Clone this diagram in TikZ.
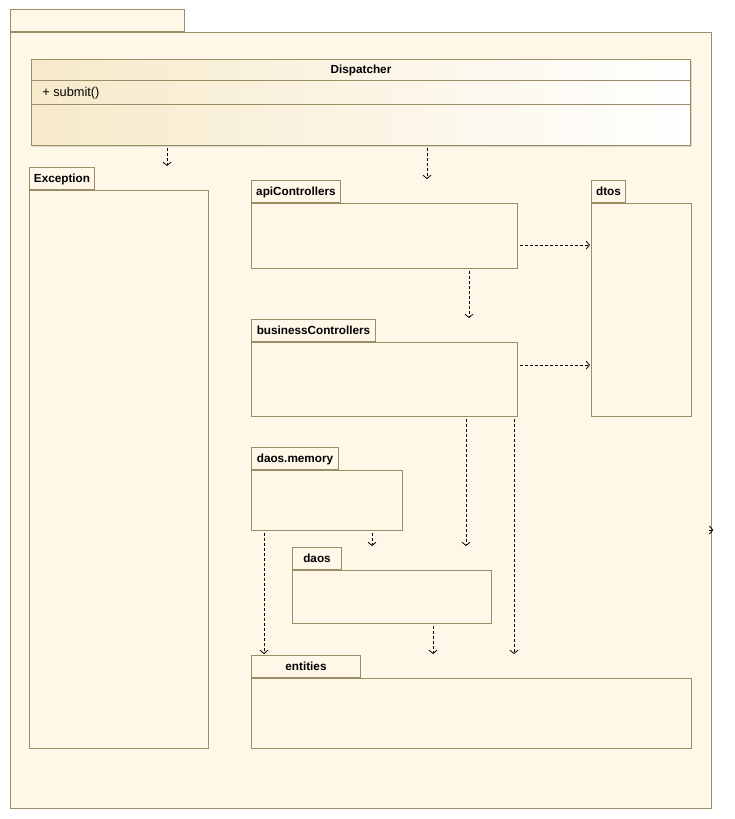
\documentclass[tikz,border=0pt]{standalone}
\usepackage{fontspec}
\setmainfont{Liberation Sans}
\usepackage{xcolor}
\usetikzlibrary{arrows.meta}
\definecolor{pkgfill}{RGB}{255,248,233}
\definecolor{pkgline}{RGB}{155,141,101}
\definecolor{clsleft}{RGB}{247,234,202}

\begin{document}
\begin{tikzpicture}[x=0.75pt,y=0.75pt,yscale=-1,xscale=1,
    pkg/.style={draw=pkgline, fill=pkgfill, line width=0.75pt, anchor=north west, inner sep=0pt},
    pkgtab/.style={draw=pkgline, fill=pkgfill, line width=0.75pt, anchor=south west, inner xsep=3pt, inner ysep=0pt, minimum height=16.5pt, text height=7.5pt, text depth=1pt, font=\bfseries\fontsize{8.8}{10}\selectfont},
    dep/.style={dash pattern=on 2.25pt off 1.5pt, line width=0.6pt, -{Straight Barb[length=2.5pt,width=6pt]}, shorten <=1.5pt, shorten >=0.75pt}]
        \useasboundingbox (0,0) rectangle (735,819);

        %Shape: Package [id:outer]
        \node [pkg, minimum width=525.75pt, minimum height=582pt] (outer) at (10,32) {};
        \node [pkgtab, minimum width=130.5pt] (outertab) at (outer.north west) {};

        %Shape: Class [id:disp]
        \node [fill=pkgline!35, anchor=north west, inner sep=0pt, minimum width=494.25pt, minimum height=64.5pt] (dispshadow) at (32.5,60.5) {};
        \node [pkg, left color=clsleft, right color=white, minimum width=494.25pt, minimum height=64.5pt] (disp) at (31,59) {};
        %Straight Lines [id:disp-sep]
        \draw [pkgline, line width=0.75pt] (disp.west |- 0,80) -- (disp.east |- 0,80) ;
        \draw [pkgline, line width=0.75pt] (disp.west |- 0,104) -- (disp.east |- 0,104) ;
        % Text Node
        \node [font=\bfseries\fontsize{8.8}{10}\selectfont, text height=7.5pt, text depth=1pt, inner sep=0.75pt] (dispname) at (disp.north |- 0,69.5) {Dispatcher};
        % Text Node
        \node [anchor=west, font=\fontsize{9.6}{11}\selectfont, text height=7.5pt, text depth=1pt, inner sep=0.75pt] (submit) at (41,92) {+ submit()};

        %Shape: Package [id:exc]
        \node [pkg, minimum width=134.25pt, minimum height=418.5pt] (exc) at (29,190) {};
        \node [pkgtab, minimum width=48.75pt] (exctab) at (exc.north west) {Exception};
        %Shape: Package [id:api]
        \node [pkg, minimum width=199.5pt, minimum height=48.75pt] (api) at (251,203) {};
        \node [pkgtab, minimum width=66.75pt] (apitab) at (api.north west) {apiControllers};
        %Shape: Package [id:dtos]
        \node [pkg, minimum width=75pt, minimum height=159.75pt] (dtos) at (591,203) {};
        \node [pkgtab, minimum width=25.5pt] (dtostab) at (dtos.north west) {dtos};
        %Shape: Package [id:bc]
        \node [pkg, minimum width=199.5pt, minimum height=55.5pt] (bc) at (251,342) {};
        \node [pkgtab, minimum width=93pt] (bctab) at (bc.north west) {businessControllers};
        %Shape: Package [id:mem]
        \node [pkg, minimum width=113.25pt, minimum height=45pt] (mem) at (251,470) {};
        \node [pkgtab, minimum width=65.25pt] (memtab) at (mem.north west) {daos.memory};
        %Shape: Package [id:daos]
        \node [pkg, minimum width=149.25pt, minimum height=39.75pt] (daos) at (292,570) {};
        \node [pkgtab, minimum width=36.75pt] (daostab) at (daos.north west) {daos};
        %Shape: Package [id:ent]
        \node [pkg, minimum width=330pt, minimum height=52.5pt] (ent) at (251,678) {};
        \node [pkgtab, minimum width=81.75pt] (enttab) at (ent.north west) {entities};

        %Straight Lines [id:deps]
        \draw [dep] (disp.south -| 167,0) -- (exctab.north -| 167,0) ;
        \draw [dep] (disp.south -| 427,0) -- (apitab.north -| 427,0) ;
        \draw [dep] (api.east |- 0,245) -- (dtos.west |- 0,245) ;
        \draw [dep] (api.south -| 469,0) -- (bctab.north -| 469,0) ;
        \draw [dep] (bc.east |- 0,365) -- (dtos.west |- 0,365) ;
        \draw [dep] (bc.south -| 466,0) -- (daostab.north -| 466,0) ;
        \draw [dep] (bc.south -| 514,0) -- (enttab.north -| 514,0) ;
        \draw [dep] (mem.south -| 372,0) -- (daostab.north -| 372,0) ;
        \draw [dep] (mem.south -| 264,0) -- (enttab.north -| 264,0) ;
        \draw [dep] (daos.south -| 433,0) -- (enttab.north -| 433,0) ;
        %Straight Lines [id:stub]
        \coordinate (stub) at (outer.east |- 0,530);
        \draw [dep, shorten <=0pt, shorten >=-1pt] ([xshift=-2pt]stub) -- (stub) ;

\end{tikzpicture}
\end{document}
